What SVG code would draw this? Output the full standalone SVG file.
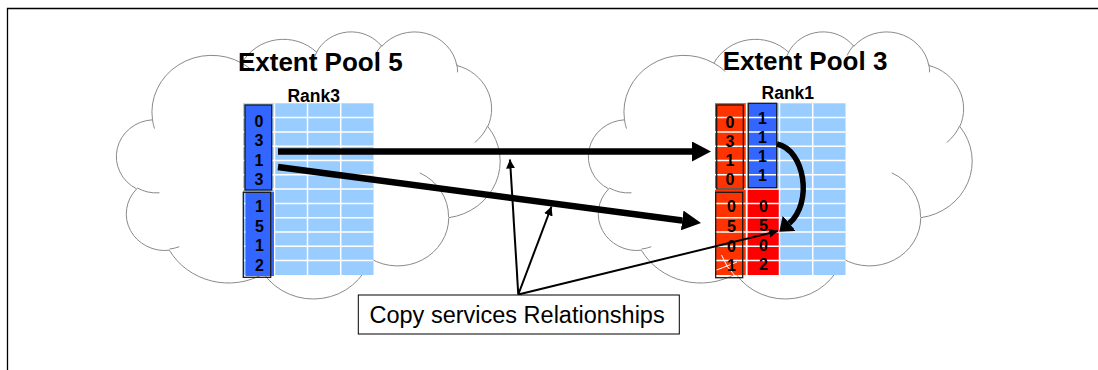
<svg xmlns="http://www.w3.org/2000/svg" xmlns:xlink="http://www.w3.org/1999/xlink" width="1098" height="370" viewBox="0 0 1098 370">
<style>
.cloud{fill:#fff;stroke:#8a8a8a;stroke-width:1}
.cloudin{fill:none;stroke:#8a8a8a;stroke-width:1}
.gl{stroke:#fff;stroke-width:1.5}
.title{font-family:"Liberation Sans",Arial,sans-serif;font-weight:bold;font-size:26px;fill:#000;text-anchor:middle}
.rank{font-family:"Liberation Sans",Arial,sans-serif;font-weight:bold;font-size:17.5px;fill:#000;text-anchor:middle}
.dg{font-family:"Liberation Sans",Arial,sans-serif;font-weight:bold;font-size:16px;fill:#000;text-anchor:middle}
.box{stroke:#1a1a1a;stroke-width:1.3}
.thick{stroke:#000;stroke-width:6.5;fill:none}
.thin{stroke:#000;stroke-width:2;fill:none}
.lbl{font-family:"Liberation Sans",Arial,sans-serif;font-size:23.5px;fill:#000}
</style>
<defs>
<path id="cloudOuter" vector-effect="non-scaling-stroke" d="M3900,14370 A6753,9190 0 0 1 14006.7,5203.6 A5333,7267 0 0 1 22457.8,3433.6 A4365,5945 0 0 1 29835.1,2482.7 A4857,6595 0 0 1 38320.6,5577.4 A5333,7273 0 0 1 41821.2,15461.3 A6775,9220 0 0 1 37406.5,30203.1 A5785,7867 0 0 1 28557.9,36813.2 A6752,9215 0 0 1 16483,39266.2 A7720,10543 0 0 1 5806,35470.5 A4360,5918 0 0 1 2114.9,25548.7 A4345,5945 0 0 1 3900,14370 Z"/>
<path id="cloudInner" vector-effect="non-scaling-stroke" d="M4693,26177 A4345,5945 0 0 1 2159.3,25379.6 M6928,34899 A4360,5918 0 0 1 5819.5,35280.5 M16478,39090 A6752,9215 0 0 1 15809.5,37348.4 M28827,34751 A6752,9215 0 0 1 28560.5,36659.6 M34129,22954 A5785,7867 0 0 1 37380.5,30089.7 M41798,15354 A5333,7273 0 0 1 40348.8,18031.2 M38324,5426 A4857,6595 0 0 1 38400.4,6689.6 M29078,3952 A4857,6595 0 0 1 29820,2339.2 M22141,4720 A4365,5945 0 0 1 22500,3330.8 M14000,5192 A6753,9190 0 0 1 15297.8,6538.5 M4127,15789 A6753,9190 0 0 1 3900.1,14371.6"/>
<rect id="gridBg" x="0" y="0" width="130.5" height="171.7" fill="#99CCFF"/>
<g id="gridLines" class="gl">
<line x1="31.5" y1="0" x2="31.5" y2="171.7"/><line x1="64.5" y1="0" x2="64.5" y2="171.7"/><line x1="97.7" y1="0" x2="97.7" y2="171.7"/>
<line x1="0" y1="14.3" x2="130.5" y2="14.3"/><line x1="0" y1="28.6" x2="130.5" y2="28.6"/><line x1="0" y1="42.9" x2="130.5" y2="42.9"/><line x1="0" y1="57.2" x2="130.5" y2="57.2"/><line x1="0" y1="71.5" x2="130.5" y2="71.5"/><line x1="0" y1="85.8" x2="130.5" y2="85.8"/><line x1="0" y1="100.1" x2="130.5" y2="100.1"/><line x1="0" y1="114.4" x2="130.5" y2="114.4"/><line x1="0" y1="128.7" x2="130.5" y2="128.7"/><line x1="0" y1="143" x2="130.5" y2="143"/><line x1="0" y1="157.3" x2="130.5" y2="157.3"/>
</g>
<marker id="ahThick" markerUnits="userSpaceOnUse" markerWidth="20" markerHeight="20" refX="0" refY="10" orient="auto" viewBox="0 0 20 20"><path d="M0,0 L19,10 L0,20 Z" fill="#000"/></marker>
<marker id="ahCurve" markerUnits="userSpaceOnUse" markerWidth="14" markerHeight="20" refX="0" refY="10" orient="auto" viewBox="0 0 14 20"><path d="M0,0 L13,10 L0,20 Z" fill="#000"/></marker>
<marker id="ahThin" markerUnits="userSpaceOnUse" markerWidth="10" markerHeight="10" refX="9" refY="4.5" orient="auto" viewBox="0 0 10 10"><path d="M0,0 L9,4.5 L0,9 Z" fill="#000"/></marker>
</defs>

<g id="frame" fill="none" stroke="#000" stroke-width="1.3">
<path d="M7.5,370 L7.5,8.5 L1098,8.5"/>
</g>

<g id="pool5">
<use xlink:href="#cloudOuter" class="cloud" transform="translate(118,31) scale(0.0088426,0.0061806)"/>
<use xlink:href="#cloudInner" class="cloudin" transform="translate(118,31) scale(0.0088426,0.0061806)"/>
<text class="title" x="320.3" y="70.7">Extent Pool 5</text>
<text class="rank" x="313.7" y="101.7">Rank3</text>
<g transform="translate(243,103.3)">
<use xlink:href="#gridBg"/>
<use xlink:href="#gridLines"/>
</g>
<rect x="245" y="105" width="26.7" height="85" fill="#3366FF" class="box"/>
<rect x="245.5" y="192" width="28.5" height="84" fill="#3366FF"/>
<rect x="243.3" y="192.3" width="27.4" height="85" fill="none" class="box"/>
<text class="dg" x="259" y="127.4">0</text>
<text class="dg" x="259" y="146.4">3</text>
<text class="dg" x="259" y="165.7">1</text>
<text class="dg" x="259" y="185">3</text>
<text class="dg" x="259.5" y="212.4">1</text>
<text class="dg" x="259.5" y="232.4">5</text>
<text class="dg" x="259.5" y="251.4">1</text>
<text class="dg" x="259.5" y="270.7">2</text>
</g>

<g id="pool3">
<use xlink:href="#cloudOuter" class="cloud" transform="translate(590,31) scale(0.0088426,0.0061806)"/>
<use xlink:href="#cloudInner" class="cloudin" transform="translate(590,31) scale(0.0088426,0.0061806)"/>
<text class="title" x="805" y="70">Extent Pool 3</text>
<text class="rank" x="787.8" y="98.5">Rank1</text>
<g transform="translate(715,103.3)">
<use xlink:href="#gridBg"/>
<rect x="0" y="0" width="31.5" height="171.7" fill="#FF3300"/>
<rect x="33.3" y="0" width="28.4" height="84.4" fill="#3366FF"/>
<rect x="32.7" y="85.8" width="31.8" height="85.9" fill="#FF0000"/>
<use xlink:href="#gridLines"/>
</g>
<rect x="748.3" y="103.3" width="28.4" height="84.4" fill="none" class="box"/>
<rect x="716.7" y="105" width="26.6" height="84" fill="none" class="box"/>
<rect x="715.7" y="192.3" width="27" height="85.4" fill="none" class="box"/>
<g fill="none" stroke="#fff" stroke-width="1">
<path d="M721.5,255 L727,266 L735,276"/>
<path d="M716.5,270 L727,266 L737,262"/>
</g>
<text class="dg" x="730" y="128">0</text>
<text class="dg" x="730" y="146.7">3</text>
<text class="dg" x="730" y="165.7">1</text>
<text class="dg" x="730" y="185">0</text>
<text class="dg" x="731.5" y="212.4">0</text>
<text class="dg" x="731.5" y="232.4">5</text>
<text class="dg" x="731.5" y="252.4">0</text>
<text class="dg" x="731.5" y="270.7">1</text>
<text class="dg" x="762.5" y="124">1</text>
<text class="dg" x="762.5" y="143.4">1</text>
<text class="dg" x="762.5" y="162.4">1</text>
<text class="dg" x="762.5" y="181.4">1</text>
<text class="dg" x="763.5" y="212.4">0</text>
<text class="dg" x="763.5" y="231.4">5</text>
<text class="dg" x="763.5" y="250.7">0</text>
<text class="dg" x="763.5" y="270">2</text>
</g>

<g id="connectors">
<path class="thick" d="M278,151.5 L692,151.5" marker-end="url(#ahThick)"/>
<path class="thick" d="M278,167 L682.2,220.5" marker-end="url(#ahThick)"/>
<path d="M777,144 C805,150 813,203 789.2,223.3" fill="none" stroke="#000" stroke-width="5.5" marker-end="url(#ahCurve)"/>
<path class="thin" d="M518.3,294.5 L510,159.5" marker-end="url(#ahThin)"/>
<path class="thin" d="M518.3,294.5 L551.5,206.5" marker-end="url(#ahThin)"/>
<path class="thin" d="M518.3,294.5 L778,231" marker-end="url(#ahThin)"/>
</g>

<g id="label">
<rect x="358.3" y="295" width="321" height="39" fill="#fff" stroke="#000" stroke-width="1"/>
<text class="lbl" x="369.5" y="323.3">Copy services Relationships</text>
</g>
</svg>
